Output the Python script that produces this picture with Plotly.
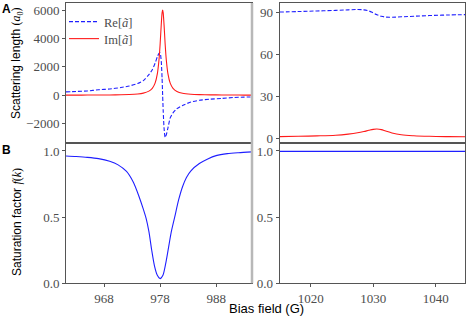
import plotly.graph_objects as go

# ---------------- data ----------------
B_left = [961.2, 963, 965, 967, 969, 971, 972.5, 974, 975, 976, 976.6, 977.1, 977.5,
          977.8, 978.0, 978.2, 978.35, 978.45, 978.55, 978.7, 978.9, 979.1, 979.4,
          979.8, 980.3, 981, 982, 983.5, 985, 987, 989, 991, 993, 994.4]
re_left = [233, 262, 300, 385, 440, 540, 650, 830, 1030, 1450, 1800, 2250, 2700,
           2950, 2980, 2400, 1200, 0, -1100, -2300, -2980, -2800, -2300,
           -1600, -1250, -950, -720, -480, -355, -280, -225, -165, -135, -120]
im_left = [6, 8, 10, 14, 20, 33, 51, 90, 149, 288, 487, 855, 1507,
           2503, 3595, 4973, 5808, 6000, 5808, 4973, 3595, 2503, 1507,
           855, 487, 267, 141, 70, 42, 25, 16, 12, 9, 7]

B_right = [1015, 1018, 1021, 1024, 1026, 1027.5, 1028.5, 1029.3, 1030, 1030.6, 1031.3,
           1032, 1033, 1034.5, 1036.5, 1039, 1042, 1045]
re_right = [90.2, 90.6, 91.0, 91.4, 91.8, 92.0, 91.8, 91.0, 89.6, 88.3, 87.2,
            86.6, 86.5, 86.8, 87.2, 87.7, 88.1, 88.4]
im_right = [1.0, 1.2, 1.5, 2.0, 2.8, 3.7, 4.6, 5.5, 6.2, 6.4, 6.0,
            5.0, 3.6, 2.3, 1.6, 1.2, 1.0, 0.9]

B_f_left = [961.2, 963, 965, 967, 969, 970.5, 972, 973.2, 974.2, 975, 975.5, 976, 976.5,
            977, 977.5, 978, 978.5, 979, 979.5, 980, 980.6, 981.3, 982, 982.7, 983.5,
            985, 986.5, 988, 990, 992, 994.4]
f_left = [0.962, 0.958, 0.952, 0.942, 0.922, 0.895, 0.845, 0.765, 0.66, 0.56, 0.49, 0.39, 0.25,
          0.13, 0.06, 0.035, 0.06, 0.15, 0.27, 0.39, 0.5, 0.63, 0.73, 0.8, 0.85,
          0.905, 0.94, 0.965, 0.98, 0.987, 0.993]
B_f_right = [1015, 1025, 1030, 1035, 1045]
f_right = [0.997, 0.997, 0.997, 0.997, 0.997]

ticks_top_left = [-2000, 0, 2000, 4000, 6000]
ticks_top_left_text = ["\u22122000", "0", "2000", "4000", "6000"]
ticks_top_right = [0, 30, 60, 90]
ticks_f = [0.0, 0.5, 1.0]
ticks_f_text = ["0.0", "0.5", "1.0"]
ticks_x_left = [968, 978, 988]
ticks_x_right = [1020, 1030, 1040]

# ---------------- figure ----------------
W, H = 469, 319
xl = [66 / W, 252 / W]
xr = [279.5 / W, 465 / W]
yt = [(H - 143.3) / H, (H - 3) / H]
yb = [(H - 283.3) / H, (H - 143.3) / H]

BLUE = "#1f1fff"
RED = "#ff1a1a"
SERIF = "Liberation Serif"
SANS = "Liberation Sans"
TICKC = "#4d4d4d"
LINEC = "#555555"

fig = go.Figure()
fig.add_trace(go.Scatter(x=B_left, y=re_left, mode="lines", name="Re[<i>ã</i>]",
                         line=dict(color=BLUE, width=1.1, dash="4px,2px", shape="spline", smoothing=0.6),
                         xaxis="x", yaxis="y", legend="legend"))
fig.add_trace(go.Scatter(x=B_left, y=im_left, mode="lines", name="Im[<i>ã</i>]",
                         line=dict(color=RED, width=1.1, shape="spline", smoothing=0.6),
                         xaxis="x", yaxis="y", legend="legend2"))
fig.add_trace(go.Scatter(x=B_right, y=re_right, mode="lines", showlegend=False,
                         line=dict(color=BLUE, width=1.1, dash="4px,2px", shape="spline"),
                         xaxis="x2", yaxis="y2"))
fig.add_trace(go.Scatter(x=B_right, y=im_right, mode="lines", showlegend=False,
                         line=dict(color=RED, width=1.1, shape="spline"),
                         xaxis="x2", yaxis="y2"))
fig.add_trace(go.Scatter(x=B_f_left, y=f_left, mode="lines", showlegend=False,
                         line=dict(color=BLUE, width=1.1, shape="spline", smoothing=0.7),
                         xaxis="x3", yaxis="y3"))
fig.add_trace(go.Scatter(x=B_f_right, y=f_right, mode="lines", showlegend=False,
                         line=dict(color=BLUE, width=1.1),
                         xaxis="x4", yaxis="y4"))

tickfont = dict(family=SERIF, size=13, color=TICKC)
common = dict(showgrid=False, zeroline=False, showline=True, mirror=True,
              linecolor=LINEC, linewidth=1, ticklen=3, automargin=False,
              tickcolor=LINEC, tickfont=tickfont)
legfont = dict(family=SERIF, size=12.5, color=TICKC)
legcommon = dict(xanchor="left", yanchor="middle", bgcolor="rgba(255,255,255,0)",
                 borderwidth=0, font=legfont, itemwidth=30)

fig.update_layout(
    width=W, height=H,
    margin=dict(l=0, r=0, t=0, b=0, autoexpand=False),
    paper_bgcolor="white", plot_bgcolor="white",
    showlegend=True,
    legend=dict(x=64 / W, y=(H - 22) / H, **legcommon),
    legend2=dict(x=64 / W, y=(H - 39) / H, **legcommon),
    xaxis=dict(domain=xl, anchor="y", range=[961.2, 994.4], showticklabels=False,
               ticks="", **common),
    yaxis=dict(domain=yt, anchor="x", range=[-3390, 6500], ticks="outside",
               tickvals=ticks_top_left, ticktext=ticks_top_left_text, **common),
    xaxis2=dict(domain=xr, anchor="y2", range=[1015, 1044.7], showticklabels=False,
                ticks="", **common),
    yaxis2=dict(domain=yt, anchor="x2", range=[-3.8, 96.7], ticks="outside",
                tickvals=ticks_top_right, **common),
    xaxis3=dict(domain=xl, anchor="y3", range=[961.2, 994.4], ticks="outside",
                tickvals=ticks_x_left, **common),
    yaxis3=dict(domain=yb, anchor="x3", range=[0, 1.058], ticks="outside",
                tickvals=ticks_f, ticktext=ticks_f_text, **common),
    xaxis4=dict(domain=xr, anchor="y4", range=[1015, 1044.7], ticks="outside",
                tickvals=ticks_x_right, **common),
    yaxis4=dict(domain=yb, anchor="x4", range=[0, 1.058], ticks="outside",
                tickvals=ticks_f, ticktext=ticks_f_text, **common),
)

# light grey right spine on the left panels (broken-axis look)
fig.add_shape(type="line", xref="paper", yref="paper", x0=xl[1], x1=xl[1], y0=yb[0], y1=yt[1],
              line=dict(color="#b8b8b8", width=2.5), layer="above")

ann = []
def add_text(text, px, py, size, angle=0, family=SANS):
    ann.append(dict(text=text, x=px / W, y=(H - py) / H, xref="paper", yref="paper",
                    xanchor="center", yanchor="middle", textangle=angle,
                    showarrow=False, font=dict(family=family, size=size, color="black")))

add_text("<b>A</b>", 6, 9, 12)
add_text("<b>B</b>", 6, 150, 12)
add_text("Scattering length <span style='font-family:Liberation Serif'>(<i>a</i><sub>0</sub>)</span>",
         17, 63, 12, -90)
add_text("Saturation factor <span style='font-family:Liberation Serif'><i>f</i>(<i>k</i>)</span>",
         17, 222, 12, -90)
add_text("Bias field (G)", 266, 308, 13)
fig.update_layout(annotations=ann)

fig.write_html("out.html", config={"displayModeBar": False},
               post_script="document.body.style.margin='0';document.body.style.padding='0';")
